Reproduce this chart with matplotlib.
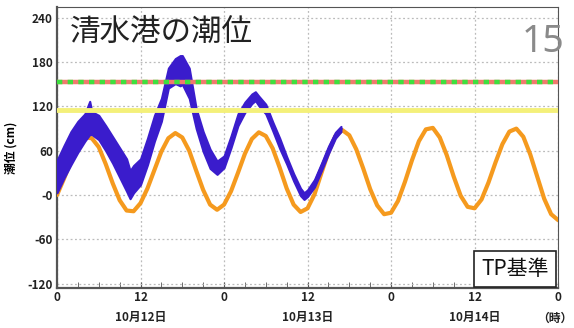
import matplotlib
matplotlib.use("Agg")
import matplotlib.pyplot as plt
import numpy as np

plt.rcParams['font.family'] = ['Noto Sans CJK JP', 'DejaVu Sans']

# astronomical tide, hourly (cm, TP)
hours = list(range(0, 73))
tide = [0, 22, 46, 66, 78, 77, 65, 42, 16, -7, -21, -22, -11, 9, 34, 59, 77, 84,
        78, 60, 33, 7, -13, -20, -13, 5, 30, 56, 76, 85, 80, 63, 37, 9, -13, -23,
        -18, 1, 30, 58, 80, 88, 81, 62, 36, 8, -14, -26, -24, -8, 18, 47, 73, 89,
        91, 78, 54, 25, -1, -16, -18, -6, 17, 44, 69, 86, 90, 79, 55, 25, -5, -26, -34]

# observed tide band (lower / upper edge)
obs_hours = [0, 1, 2, 3, 4, 4.7, 5, 6, 7, 8, 9, 10, 10.5, 11, 12, 13, 14, 15, 16, 17,
             17.7, 18, 19, 20, 21, 22, 23, 24, 25, 26, 27, 28, 28.5, 29, 30, 31, 32,
             33, 34, 35, 35.5, 36, 37, 38, 39, 40, 40.8]
obs_low = [3, 23, 41, 58, 73, 82, 82, 75, 60, 43, 24, 5, -5, 3, 14, 41, 73, 100, 145, 151,
           148, 150, 131, 90, 59, 36, 28, 37, 64, 94, 112, 124, 128, 121, 110, 87, 63,
           42, 19, -1, -6, -2, 11, 33, 56, 77, 86]
obs_high = [47, 67, 86, 100, 110, 127, 113, 108, 94, 79, 64, 49, 33, 40, 49, 77, 108, 131, 172, 185,
            189, 189, 172, 117, 86, 62, 46, 53, 80, 110, 126, 137, 140, 134, 123, 99, 77,
            52, 29, 9, 3, 7, 21, 43, 66, 85, 93]

warn_level = 153
caution_level = 115

xticks = [0, 12, 24, 36, 48, 60, 72]
xlabels = ['0', '12\n10月12日', '0', '12\n10月13日', '0', '12\n10月14日', '0']
yticks = [240, 180, 120, 60, 0, -60, -120]
ylabels = ['240', '180', '120', '60', '-0', '-60', '-120']

fig = plt.figure(figsize=(5.74, 3.28), dpi=100)
ax = fig.add_axes([0.0993, 0.122, 0.873, 0.857])

ax.plot(hours, tide, color='#f59a1e', lw=3, zorder=3,
        solid_capstyle='round', solid_joinstyle='round')
blue = '#3a1ccc'
ax.fill_between(obs_hours, obs_low, obs_high, color=blue, lw=1.5, zorder=4)
ax.plot(obs_hours, [(a + b) / 2 for a, b in zip(obs_low, obs_high)],
        color=blue, lw=2, zorder=4, solid_joinstyle='round')

ax.axhline(caution_level, color='#f4f07a', lw=3.5, zorder=5)
ax.axhline(warn_level, color='#f07a6e', lw=3.2, zorder=5)
ax.axhline(warn_level, color='#3ee03e', lw=3.2, ls=(0, (1.2, 1.2)), zorder=6)

ax.set_xlim(0, 72)
ax.set_ylim(-126, 255)
ax.set_xticks(xticks)
ax.set_xticklabels(xlabels, fontsize=8.5, fontweight='bold', color='#222222', linespacing=1.75)
ax.set_yticks(yticks)
ax.set_yticklabels(ylabels, fontsize=8.5, fontweight='bold', color='#222222')
ax.set_xticks(np.arange(0, 73, 3), minor=True)
ax.tick_params(axis='x', which='both', direction='in', length=4, color='#555555', pad=2)
ax.tick_params(axis='y', length=0, pad=3)
ax.grid(True, color='#bbbbbb', ls=(0, (1.5, 2)), lw=0.9)
for s in ax.spines.values():
    s.set_color('#555555')
ax.spines['left'].set_linewidth(1.6)
ax.spines['bottom'].set_linewidth(1.6)

ax.set_ylabel('潮位 (cm)', fontsize=8.5, fontweight='bold', labelpad=7)

ax.text(0.025, 0.965, '清水港の潮位', transform=ax.transAxes, fontsize=22,
        ha='left', va='top', color='#222222', zorder=8)
fig.text(0.983, 0.842, '15', fontsize=27, color='#8a8a8a', ha='right', va='baseline',
         family=['Noto Sans', 'DejaVu Sans'])
ax.text(0.982, 0.028, 'TP基準', transform=ax.transAxes, fontsize=15, ha='right', va='bottom',
        color='#111111', zorder=8,
        bbox=dict(boxstyle='square,pad=0.35', fc='white', ec='#222222', lw=1.2))
fig.text(0.998, 0.03, '（時）', fontsize=8.5, fontweight='bold', color='#222222',
         ha='right', va='center')

fig.savefig('out.png', dpi=100)
